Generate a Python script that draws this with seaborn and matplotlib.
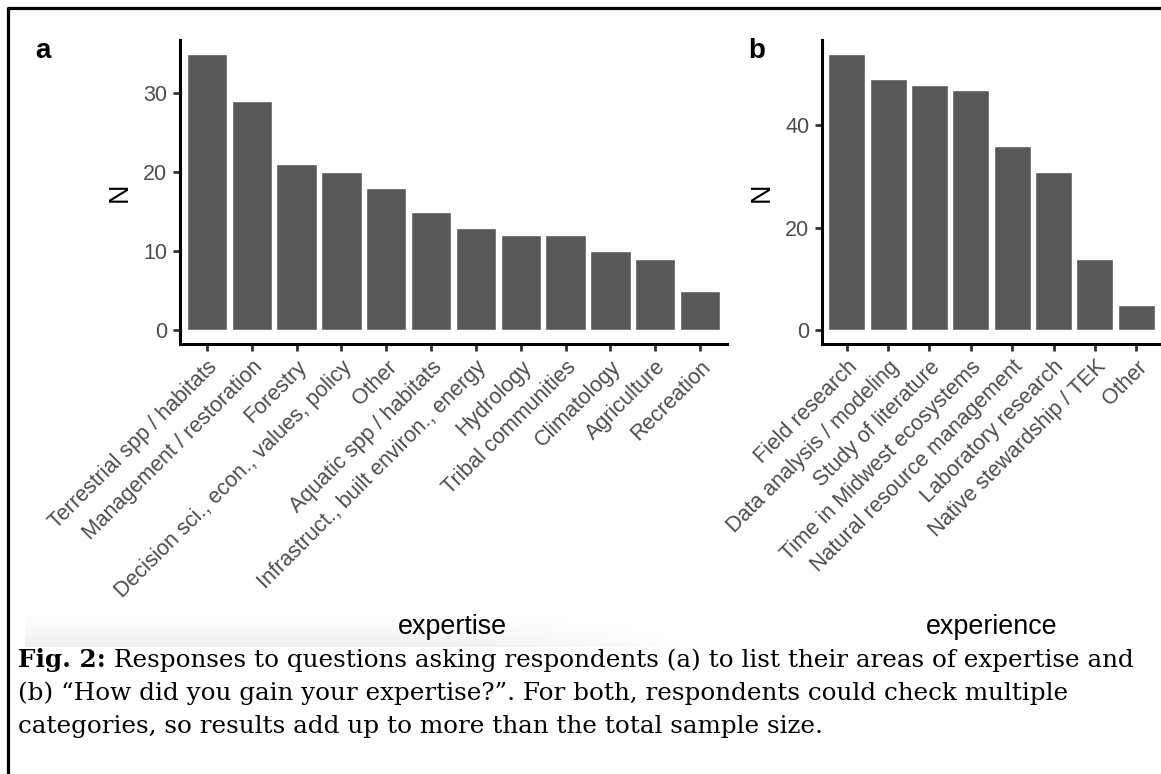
import numpy as np
import pandas as pd
import matplotlib.pyplot as plt
import seaborn as sns

# ── Data ──────────────────────────────────────────────────────────
expertise = ["Terrestrial spp / habitats", "Management / restoration", "Forestry",
             "Decision sci., econ., values, policy", "Other", "Aquatic spp / habitats",
             "Infrastruct., built environ., energy", "Hydrology", "Tribal communities",
             "Climatology", "Agriculture", "Recreation"]
expertise_n = [35, 29, 21, 20, 18, 15, 13, 12, 12, 10, 9, 5]
expertise_ticks = [0, 10, 20, 30]

experience = ["Field research", "Data analysis / modeling", "Study of literature",
              "Time in Midwest ecosystems", "Natural resource management",
              "Laboratory research", "Native stewardship / TEK", "Other"]
experience_n = [54, 49, 48, 47, 36, 31, 14, 5]
experience_ticks = [0, 20, 40]

caption_bold = "Fig. 2:"
caption_lines = [
    " Responses to questions asking respondents (a) to list their areas of expertise and",
    "(b) \u201cHow did you gain your expertise?\u201d. For both, respondents could check multiple",
    "categories, so results add up to more than the total sample size.",
]

# ── Style ─────────────────────────────────────────────────────────
sns.set_style("ticks")
plt.rcParams["font.family"] = ["Liberation Sans", "DejaVu Sans"]
plt.rcParams["text.color"] = "black"

W, H = 1161, 774
fig = plt.figure(figsize=(W / 100, H / 100), dpi=100)


def px_axes(x0, y0, x1, y1, **kw):
    # axes placed by pixel box (top-left origin)
    return fig.add_axes([x0 / W, 1 - y1 / H, (x1 - x0) / W, (y1 - y0) / H], **kw)


# background layer: frame and the faint grey band from the screenshot
bg = px_axes(0, 0, W, H, zorder=-1)
bg.set_xlim(0, W)
bg.set_ylim(H, 0)
bg.axis("off")
yy, xx = np.mgrid[596:647, 25:720]
alpha = ((yy - 596) / 50.0) ** 2 * np.clip((720 - xx) / 300.0, 0, 1)
band = np.zeros(yy.shape + (4,))
band[..., :3] = 0.94
band[..., 3] = alpha
bg.imshow(band, extent=(25, 720, 647, 596), aspect="auto", interpolation="bilinear")
bg.plot([8, 8, W + 5], [H + 5, 8, 8], color="black", lw=2.3, solid_capstyle="butt")


def draw_panel(ax, cats, vals, ticks, xlabel, xlab_x, ylab_x):
    df = pd.DataFrame({"cat": cats, "N": vals})
    sns.barplot(data=df, x="cat", y="N", order=cats, color="#595959",
                saturation=1, width=0.9, ax=ax)
    ax.set_xlim(-0.6, len(cats) - 0.4)
    top = max(vals)
    ax.set_ylim(-0.05 * top, 1.05 * top)
    ax.set_yticks(ticks)
    ax.set_xticks(range(len(cats)))
    ax.set_xticklabels(cats, rotation=45, ha="right", va="top", rotation_mode="anchor")
    sns.despine(ax=ax)
    for s in ["left", "bottom"]:
        ax.spines[s].set_linewidth(2.2)
        ax.spines[s].set_color("black")
    ax.tick_params(length=5, width=2.0, color="#333333", labelcolor="#4D4D4D",
                   labelsize=15.5, pad=4)
    ax.set_xlabel(xlabel, fontsize=19.4, color="black")
    ax.xaxis.set_label_coords(xlab_x / W, 1 - 634 / H, transform=fig.transFigure)
    ax.xaxis.label.set_va("baseline")
    ax.set_ylabel("N", fontsize=19.4, color="black")
    ax.yaxis.set_label_coords(ylab_x / W, 1 - 192 / H, transform=fig.transFigure)
    ax.yaxis.label.set_va("center")


ax_a = px_axes(180, 40, 727, 344)
ax_b = px_axes(822, 40, 1161, 344)
draw_panel(ax_a, expertise, expertise_n, expertise_ticks, "expertise", 452, 120)
draw_panel(ax_b, experience, experience_n, experience_ticks, "experience", 992, 762)

fig.text(35 / W, 1 - 58 / H, "a", fontsize=20, fontweight="bold", va="baseline")
fig.text(748 / W, 1 - 58 / H, "b", fontsize=20, fontweight="bold", va="baseline")

# ── Caption ───────────────────────────────────────────────────────
cap_font = ["DejaVu Serif"]
cap_size = 17.7
base_y = [667, 700, 733]
bold = fig.text(18 / W, 1 - base_y[0] / H, caption_bold, fontsize=cap_size,
                fontweight="bold", family=cap_font, va="baseline")
bg.annotate(caption_lines[0], xy=(1, 0), xycoords=bold, fontsize=cap_size,
            family=cap_font, va="bottom", ha="left", annotation_clip=False)
for line, y in zip(caption_lines[1:], base_y[1:]):
    fig.text(18 / W, 1 - y / H, line, fontsize=cap_size, family=cap_font, va="baseline")

fig.savefig("out.png", dpi=100)
